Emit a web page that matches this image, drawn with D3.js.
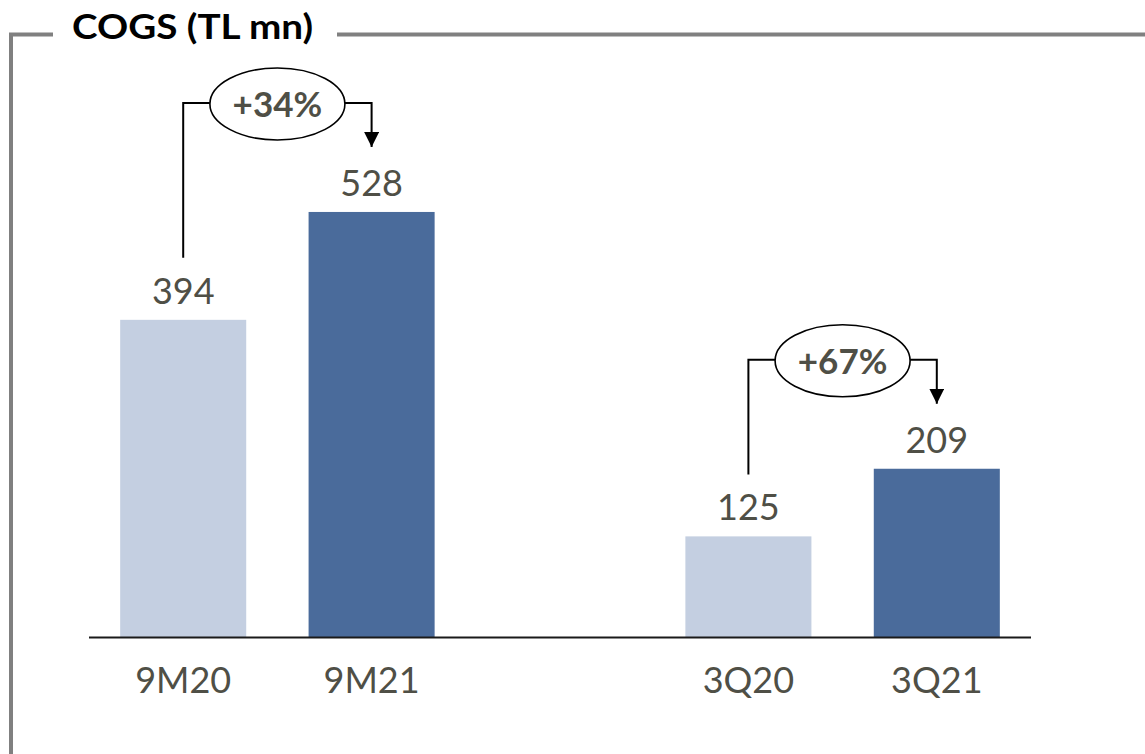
<!DOCTYPE html>
<html>
<head>
<meta charset="utf-8">
<script src="https://cdn.jsdelivr.net/npm/d3@7"></script>
<style>
  html, body { margin: 0; padding: 0; background: #ffffff; }
  svg { display: block; }
  text { font-family: Lato, "Open Sans", sans-serif; }
</style>
</head>
<body>
<svg id="chart" width="1145" height="754"></svg>
<script>
// Cost of goods sold, TL million
const title = "COGS (TL mn)";
const categories = ["9M20", "9M21", "3Q20", "3Q21"];
const values = [394, 528, 125, 209];
const periodKind = ["prior", "current", "prior", "current"];
// slot layout along the axis: an empty slot separates the two comparisons
const slots = ["9M20", "9M21", "spacer", "3Q20", "3Q21"];
// year-on-year comparisons drawn as bracket arrows
const comparisons = [
  { from: "9M20", to: "9M21" },
  { from: "3Q20", to: "3Q21" }
];

const W = 1145, H = 754;
const svg = d3.select("#chart");
const value = Object.fromEntries(categories.map((c, i) => [c, values[i]]));

const fill = { prior: "#c4cfe1", current: "#4a6b9b" };
const textColor = "#4f4f46";
const frameColor = "#808080";

const x = d3.scaleBand()
  .domain(slots)
  .range([89, 1031])
  .paddingInner(0.331)
  .paddingOuter(0.1655);

const y = d3.scaleLinear()
  .domain([0, 600])
  .range([637, 154]);

const cx = c => x(c) + x.bandwidth() / 2;

// frame around the panel with the title breaking the top edge
const frame = svg.append("g")
  .attr("fill", "none")
  .attr("stroke", frameColor)
  .attr("stroke-width", 4);
frame.append("path").attr("d", `M53,34.5 H11 V${H}`);
frame.append("path").attr("d", `M337,34.5 H${W}`);

svg.append("text")
  .attr("x", 72)
  .attr("y", 39)
  .attr("font-size", 35)
  .attr("font-weight", 700)
  .attr("fill", "#000000")
  .attr("textLength", 241)
  .attr("lengthAdjust", "spacingAndGlyphs")
  .text(title);

// bars
svg.append("g")
  .selectAll("rect")
  .data(categories)
  .join("rect")
  .attr("x", c => x(c))
  .attr("width", x.bandwidth())
  .attr("y", c => y(value[c]))
  .attr("height", c => y(0) - y(value[c]))
  .attr("fill", (c, i) => fill[periodKind[i]]);

// value labels
svg.append("g")
  .selectAll("text")
  .data(categories)
  .join("text")
  .attr("x", c => cx(c))
  .attr("y", c => y(value[c]) - 16)
  .attr("text-anchor", "middle")
  .attr("font-size", 36)
  .attr("fill", textColor)
  .text(c => d3.format("d")(value[c]));

// category axis
const axis = svg.append("g")
  .attr("transform", `translate(0,${y(0)})`)
  .call(d3.axisBottom(x).tickSize(0).tickPadding(0)
    .tickFormat(d => categories.includes(d) ? d : ""));
axis.select(".domain")
  .attr("d", `M${x.range()[0]},0.5H${x.range()[1]}`)
  .attr("stroke", "#1a1a1a")
  .attr("stroke-width", 2.2);
axis.selectAll(".tick text")
  .attr("y", 56)
  .attr("dy", null)
  .attr("font-size", 36)
  .attr("font-family", "Lato, 'Open Sans', sans-serif")
  .attr("fill", textColor);

// growth brackets
svg.append("defs").append("marker")
  .attr("id", "arrowhead")
  .attr("viewBox", "0 0 10 10")
  .attr("refX", 10)
  .attr("refY", 5)
  .attr("markerUnits", "userSpaceOnUse")
  .attr("markerWidth", 15)
  .attr("markerHeight", 15)
  .attr("orient", "auto")
  .append("path")
  .attr("d", "M0,0 L10,5 L0,10 Z")
  .attr("fill", "#000000");

const pct = d3.format("+.0%");
const brackets = svg.append("g").selectAll("g")
  .data(comparisons)
  .join("g");

brackets.each(function (d) {
  const g = d3.select(this);
  const x0 = cx(d.from), x1 = cx(d.to);
  const topY = Math.min(y(value[d.from]), y(value[d.to]));
  const lineY = topY - 109;
  const mid = (x0 + x1) / 2;
  const rx = 67.5, ry = 36;

  g.append("path")
    .attr("d", `M${x0},${y(value[d.from]) - 62} V${lineY} H${mid - rx}`)
    .attr("fill", "none")
    .attr("stroke", "#000000")
    .attr("stroke-width", 2);

  g.append("path")
    .attr("d", `M${mid + rx},${lineY} H${x1} V${y(value[d.to]) - 65}`)
    .attr("fill", "none")
    .attr("stroke", "#000000")
    .attr("stroke-width", 2)
    .attr("marker-end", "url(#arrowhead)");

  g.append("ellipse")
    .attr("cx", mid)
    .attr("cy", lineY + 1)
    .attr("rx", rx)
    .attr("ry", ry)
    .attr("fill", "#ffffff")
    .attr("stroke", "#000000")
    .attr("stroke-width", 1.6);

  g.append("text")
    .attr("x", mid)
    .attr("y", lineY + 14)
    .attr("text-anchor", "middle")
    .attr("font-size", 35)
    .attr("font-weight", 700)
    .attr("fill", textColor)
    .text(pct(value[d.to] / value[d.from] - 1));
});
</script>
</body>
</html>
